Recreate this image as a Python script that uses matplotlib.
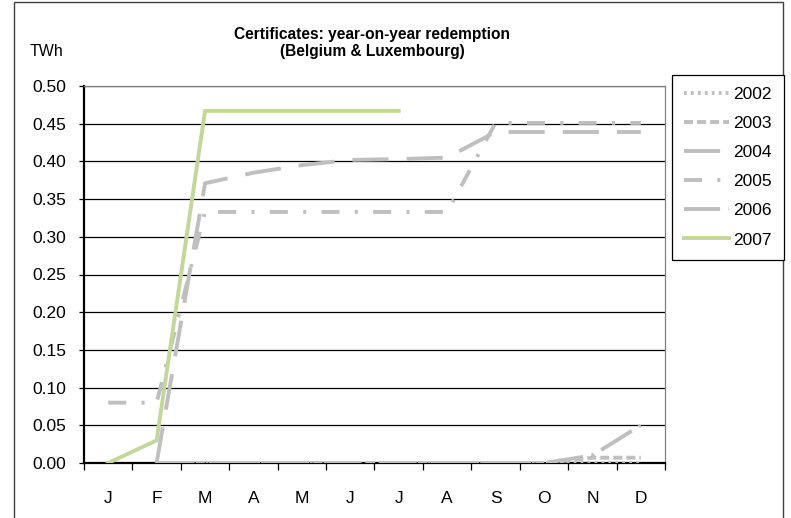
import numpy as np
import matplotlib
matplotlib.use("Agg")
import matplotlib.pyplot as plt
from matplotlib.patches import Rectangle

plt.rcParams['font.family'] = ['Liberation Sans', 'DejaVu Sans']
plt.rcParams['lines.scale_dashes'] = False

months = ["J", "F", "M", "A", "M", "J", "J", "A", "S", "O", "N", "D"]
nan = np.nan
y2002 = [nan, 0, 0, 0, 0, 0, 0, 0, 0, 0, 0, 0]
y2003 = [nan, 0, 0, 0, 0, 0, 0, 0, 0, 0, 0.007, 0.007]
y2004 = [nan, 0, 0.371, 0.385, 0.395, 0.402, 0.403, 0.405, 0.439, 0.439, 0.439, 0.439]
y2005 = [0.08, 0.08, 0.333, 0.333, 0.333, 0.333, 0.333, 0.333, 0.451, 0.451, 0.451, 0.451]
y2006 = [nan, 0, 0, 0, 0, 0, 0, 0, 0, 0, 0.01, 0.05]
y2007 = [0, 0.03, 0.467, 0.467, 0.467, 0.467, 0.467]

# line patterns in points (gray series, Excel-like)
series = [
    ("2002", y2002, (0, (2.0, 3.0))),
    ("2003", y2003, (0, (6.5, 2.9))),
    ("2004", y2004, (0, (26.0, 13.0))),
    ("2005", y2005, (0, (13.0, 11.0, 2.2, 11.0))),
    ("2006", y2006, (0, (26.0, 6.0, 2.2, 6.0))),
]

fig = plt.figure(figsize=(7.91, 5.18), dpi=100)
ax = fig.add_axes([84/791, 1 - 463/518, (665 - 84)/791, (463 - 86)/518])

x = np.arange(12)
grey = "#bfbfbf"
handles = []
for name, vals, ls in series:
    h, = ax.plot(x, vals, color=grey, lw=2.8, linestyle=ls, label=name, zorder=3)
    handles.append(h)
h, = ax.plot(x[:len(y2007)], y2007, color="#c4d79b", lw=2.8, label="2007", zorder=4)
handles.append(h)

ax.set_xlim(-0.5, 11.5)
ax.set_ylim(0, 0.5)
yt = np.arange(0, 0.51, 0.05)
ax.set_yticks(yt)
ax.set_yticklabels(["%.2f" % v for v in yt], fontsize=12.5)
ax.yaxis.grid(True, color="black", lw=0.9)
ax.set_axisbelow(True)

ax.set_xticks(np.arange(-0.5, 12, 1))
ax.set_xticklabels([])
ax.set_xticks(x, minor=True)
ax.set_xticklabels(months, minor=True, fontsize=12.5)
ax.tick_params(axis="x", which="major", length=5, width=0.9, color="black")
ax.tick_params(axis="x", which="minor", length=0, pad=20)
ax.tick_params(axis="y", length=3.6, width=0.9, pad=9)

for side in ["top", "right"]:
    ax.spines[side].set_color("#808080")
    ax.spines[side].set_linewidth(0.9)
for side in ["left", "bottom"]:
    ax.spines[side].set_color("black")
    ax.spines[side].set_linewidth(1.6)

fig.text(372/791, 1 - 43/518, "Certificates: year-on-year redemption\n(Belgium & Luxembourg)",
         ha="center", va="center", fontsize=11.2, fontweight="bold", linespacing=1.15)
fig.text(30/791, 1 - 52/518, "TWh", ha="left", va="center", fontsize=11.5)

leg = fig.legend(handles=handles, loc="upper left", bbox_to_anchor=(672/791, 1 - 75/518),
                 fontsize=12.5, handlelength=2.6, handletextpad=0.2, labelspacing=0.8,
                 borderpad=0.7, borderaxespad=0, fancybox=False, framealpha=1)
leg.get_frame().set_edgecolor("black")
leg.get_frame().set_linewidth(0.9)

fig.patches.append(Rectangle((14/791, -0.1), (783 - 14)/791, 1.1 - 2/518,
                             transform=fig.transFigure, fill=False, ec="#404040", lw=1.0))

fig.savefig("out.png", dpi=100)
